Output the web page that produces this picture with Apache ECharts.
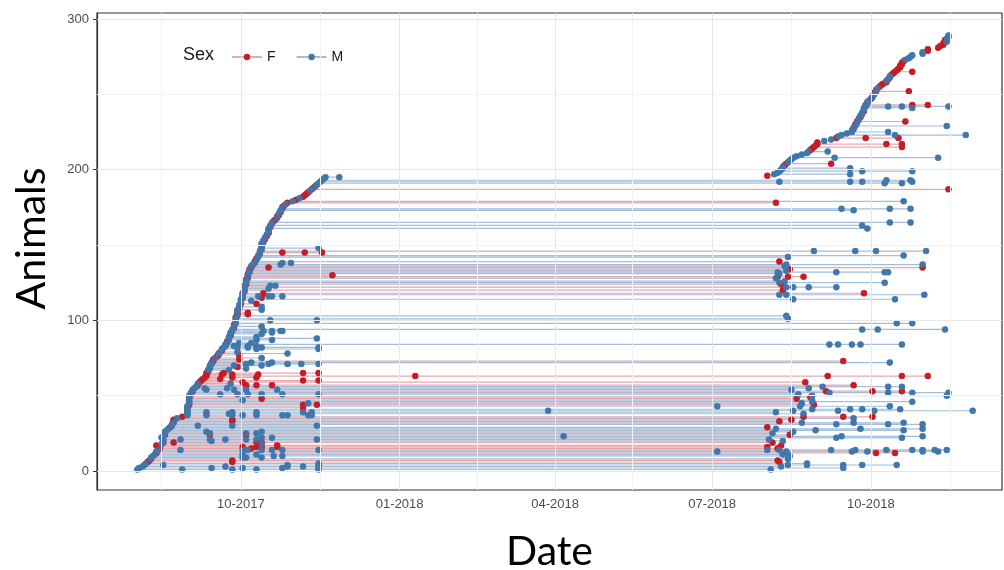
<!DOCTYPE html>
<html>
<head>
<meta charset="utf-8">
<script src="https://cdn.jsdelivr.net/npm/echarts@6/dist/echarts.min.js"></script>
<style>
html,body{margin:0;padding:0;background:#fff;}
#chart{width:1004px;height:570px;}
</style>
</head>
<body>
<div id="chart"></div>
<script>
// Days counted from 2017-07-01
const DAY0 = '2017-07-01';
const xRangeDays = [8.6, 533];
const yRange = [-12.6, 304];
const yTicks = [0, 100, 200, 300];
const yMinorTicks = [50, 150, 250];
const xTickDates = ['2017-10-01', '2018-01-01', '2018-04-01', '2018-07-01', '2018-10-01'];
const xMinorDates = ['2017-08-16', '2017-11-16', '2018-02-15', '2018-05-16', '2018-08-16', '2018-11-16'];
const sexLevels = ['F', 'M'];

// animal ids (1-based row on the y axis) that are females; all others are males
const femaleIds = [6,7,12,15,16,17,19,24,29,33,34,36,42,44,48,49,53,57,59,60,61,62,63,64,65,66,69,73,74,76,77,80,86,90,95,97,102,104,105,108,111,115,118,120,124,127,129,130,134,135,139,141,145,149,152,154,156,158,162,166,167,169,170,172,175,176,178,180,182,183,184,185,187,189,
196,203,204,213,214,215,216,217,218,221,227,230,232,235,239,243,247,251,252,255,256,257,258,260,263,264,265,266,267,268,269,270,271,272,279,280,281,282,283,284,286];

// capture days for each animal (animal 1 first)
const captureDays = [
// 1-10
[32,58,87,101,137,399],[33,75,93,116,137,441],[35,83,119,128,137,405],[36,47,119,137,409,420,441,452,472],[37,137,420],
[38,87,404],[39,87,403],[40,409],[40,93,95,104],[41,111,116,410],
// 11-20
[42,93,101,406,409],[43,460,471],[43,368,408,446,455,487,496],[44,57,93,96,104,110,116,137,397,404,434,448,466,481,487,494,501],[45,98,403],
[44,93,101,104,113,397],[43,113,405],[46,104],[47,53,101,104,400],[47,75,406],
// 21-30
[47,57,74,83,95,101,136,398],[46,104,110,437,475],[47,279,440,487],[48,74,95,410],[48,74,95,101,400],
[48,72,104,412],[49,425,476],[50,402,451,487],[51,397],[52,67,87,136],
// 31-40
[52,437,467,487],[53,417,447,476],[53,87,404],[53,87,411],[55,447],
[58,418,441,458],[61,72,87,93,101,116,119,131,133],[61,85,418],[61,72,87,101,128,133,402],[61,270,412,438,459,516],
// 41-50
[61,423,445,452,474],[61,128],[61,368,416,468],[62,128,136,424],[62,131,417],
[62,423,481],[62,93,423],[62,104,414],[62,422],[62,423,501],
// 51-60
[63,80,90,96,104,116,137,415],[63,433,467,481,502],[64,431,458,475],[64,72,88,95,113,411],[65,71,84,421],
[66,429,467,475],[67,95,101,110,447],[67,86],[68,93,419],[69,128,137],
// 61-70
[70,80],[71,87,101],[72,193,432,475,490],[72,81,87,102],[72,82,128,137],
[73],[73,85],[74,95],[74,90],[74,88,104],
// 71-80
[75,95,108,119,127,137],[75,98,110,468],[76,441],[76,91],[77,104],
[78],[79,91],[79,119],[80,90],[81],
// 81-90
[81,101,137],[82,90,96,104,137],[83,88,96,101],[83,433,438,446,451,475],[84,91,98],
[84],[85,101,110],[85,136],[85,101],[86],
// 91-100
[86,104],[86,110],[87,105,110,115,116],[87,452,461,500],[88],
[88,104],[88],[89,472,481],[89],[89,109,136],
// 101-110
[89,409],[89],[90,408],[90,96],[90,96],
[90],[90,104],[91],[91,104],[91],
// 111-120
[92,101],[92],[92,98],[92,412,471],[93,104],
[93,102,108,110,116],[93,404,408,488],[93,105,453],[94],[94,406],
// 121-130
[94,108],[94,408,412,421,437],[94,109,112],[95,405],[95,404,465],
[95,407],[95],[96,402],[96,403,409,418],[96,145],
// 131-140
[96,404],[97,403,437,465,467],[97,408],[97,410],[98,108,487],
[98,407],[99,115,408,487],[100,116,121],[100,404],[101],
// 141-150
[101],[102,409],[102,476],[103],[103,116,129,139],
[103,424,448,460,489],[104],[104,137],[104],[104],
// 151-160
[104],[105],[105],[106],[106],
[107],[107],[108],[108],[108],
// 161-170
[108,455],[109],[109,452],[110],[110,468,480],
[111],[112],[113],[113],[114],
// 171-180
[114],[115],[115,447],[116,440,468,480],[116],
[117],[118],[119,402],[122,476],[124],
// 181-190
[126],[128],[129],[130],[131],
[132],[133,502],[134],[135],[136],
// 191-200
[137,465,475],[138,404,445,452,481],[139,466,480],[140],[141,149],
[397],[401,445],[403],[404,452,481],[405],
// 201-210
[406,445],[406],[407],[408,434],[409],
[410],[411],[412,436,496],[414],[417],
// 211-220
[420],[421,432],[422],[423],[424,475],
[425],[426,466,475],[426],[430],[434],
// 221-230
[437,454,473],[438],[440,471,512],[443],[446,467],
[446],[447],[447],[448,501],[448],
// 231-240
[449],[449,477],[450],[450],[451],
[451],[452],[452],[453],[453],
// 241-250
[453,481],[454,467,475,502],[454,481,490],[455],[455],
[456],[457],[458],[458],[459],
// 251-260
[459],[460,479],[460],[461],[462],
[463],[464],[466],[466],[467],
// 261-270
[468],[468],[469],[470],[471,481],
[472],[473],[474],[474],[475],
// 271-280
[475],[476],[477],[479],[480],
[481],[487],[487],[490],[490],
// 281-289
[496],[497],[499],[499],[501],
[500],[501],[502],[502]
];

// ---------------------------------------------------------------
const DAY_MS = 86400000;
const t0 = Date.parse(DAY0 + 'T00:00:00Z');
const toTime = d => t0 + d * DAY_MS;
const parseDate = s => Date.parse(s + 'T00:00:00Z');

const colors = { F: '#C51D27', M: '#4178AC' };
const lineColors = { F: 'rgba(205,60,70,0.45)', M: 'rgba(70,125,180,0.5)' };
const femaleSet = new Set(femaleIds);

const lineData = { F: [], M: [] };
const pointData = { F: [], M: [] };
captureDays.forEach((days, i) => {
  const id = i + 1;
  const s = femaleSet.has(id) ? 'F' : 'M';
  days.forEach(d => {
    lineData[s].push([toTime(d), id]);
    pointData[s].push([toTime(d), id]);
  });
  lineData[s].push(['-', '-']);
});

const xTicks = xTickDates.map(parseDate);
const pad = n => (n < 10 ? '0' : '') + n;
const fmt = v => { const d = new Date(v); return pad(d.getUTCMonth() + 1) + '-' + d.getUTCFullYear(); };

const gridLines = []
  .concat(yTicks.map(v => ({ yAxis: v, lineStyle: { color: '#e6e6e6', width: 1 } })))
  .concat(yMinorTicks.map(v => ({ yAxis: v, lineStyle: { color: '#f2f2f2', width: 1 } })))
  .concat(xTicks.map(v => ({ xAxis: v, lineStyle: { color: '#e6e6e6', width: 1 } })))
  .concat(xMinorDates.map(s => ({ xAxis: parseDate(s), lineStyle: { color: '#f2f2f2', width: 1 } })));

const series = [{
  type: 'scatter', name: '_grid', data: [], z: 1, silent: true,
  markLine: { silent: true, symbol: 'none', label: { show: false }, animation: false,
    lineStyle: { type: 'solid' }, data: gridLines }
}];
sexLevels.forEach(s => {
  series.push({
    type: 'line', name: s, data: lineData[s], z: 2,
    connectNulls: false, showSymbol: true, showAllSymbol: true,
    symbol: 'circle', symbolSize: 6,
    itemStyle: { color: colors[s] },
    lineStyle: { color: lineColors[s], width: 1.2 },
    emphasis: { disabled: true }, silent: true, animation: false
  });
});
sexLevels.forEach(s => {
  series.push({
    type: 'scatter', name: s, data: pointData[s], z: 3,
    symbol: 'circle', symbolSize: 6.5,
    itemStyle: { color: colors[s] },
    emphasis: { disabled: true }, silent: true, animation: false
  });
});

const chart = echarts.init(document.getElementById('chart'), null, { renderer: 'canvas' });
chart.setOption({
  animation: false,
  backgroundColor: '#ffffff',
  title: { text: 'Sex', left: 178, top: 41,
    textStyle: { fontSize: 18, fontWeight: 'normal', color: '#1a1a1a', fontFamily: 'Liberation Sans' } },
  legend: {
    data: sexLevels.map(s => ({ name: s })),
    left: 226, top: 45, itemWidth: 30, itemHeight: 8, itemGap: 20,
    textStyle: { fontSize: 14, color: '#1a1a1a', fontFamily: 'Liberation Sans' },
    selectedMode: false
  },
  grid: { left: 97, right: 2, top: 13, bottom: 80, show: true, outerBoundsMode: 'none',
    backgroundColor: '#ffffff', borderColor: '#333333', borderWidth: 1.2, containLabel: false },
  xAxis: {
    type: 'value', min: toTime(xRangeDays[0]), max: toTime(xRangeDays[1]),
    name: 'Date', nameLocation: 'middle', nameGap: 41,
    nameTextStyle: { fontSize: 41, color: '#000', fontFamily: 'Lato' },
    axisLine: { show: true, lineStyle: { color: '#333333', width: 1.2 } },
    axisTick: { show: true, length: 4, lineStyle: { color: '#333333' }, customValues: xTicks },
    axisLabel: { customValues: xTicks, formatter: fmt, fontSize: 13, color: '#4d4d4d',
      fontFamily: 'Liberation Sans', margin: 8 },
    splitLine: { show: false }
  },
  yAxis: {
    type: 'value', min: yRange[0], max: yRange[1],
    name: 'Animals', nameLocation: 'middle', nameGap: 45, nameRotate: 90,
    nameTextStyle: { fontSize: 41, color: '#000', fontFamily: 'Lato', padding: [0, 0, 0, 26] },
    axisLine: { show: true, lineStyle: { color: '#333333', width: 1.2 } },
    axisTick: { show: true, length: 4, lineStyle: { color: '#333333' }, customValues: yTicks },
    axisLabel: { customValues: yTicks, fontSize: 13, color: '#4d4d4d',
      fontFamily: 'Liberation Sans', margin: 8 },
    splitLine: { show: false }
  },
  series: series
});
</script>
</body>
</html>
